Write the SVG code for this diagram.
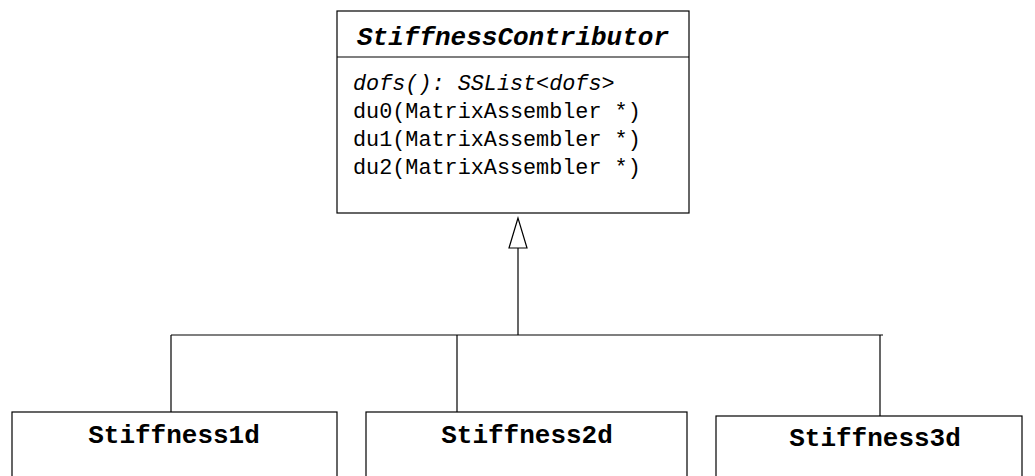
<svg xmlns="http://www.w3.org/2000/svg" width="1035" height="476" viewBox="0 0 1035 476">
<style>
.box{fill:#fff;stroke:#000;stroke-width:1.2}
.ln{fill:none;stroke:#000;stroke-width:1.2}
.title{font-family:"Liberation Mono","Courier New",monospace;font-weight:bold;font-size:26px;fill:#000}
.m{font-family:"Liberation Mono","Courier New",monospace;font-size:21.8px;fill:#000}
</style>
<rect width="1035" height="476" fill="#fff"/>
<g id="connectors">
<line class="ln" x1="518" y1="248" x2="518" y2="335"/>
<polygon class="box" points="518,218 509,248 527,248"/>
<line class="ln" x1="171" y1="335" x2="883" y2="335"/>
<line class="ln" x1="171" y1="335" x2="171" y2="412"/>
<line class="ln" x1="457" y1="335" x2="457" y2="412"/>
<line class="ln" x1="880" y1="335" x2="880" y2="416"/>
</g>
<g id="StiffnessContributor">
<rect class="box" x="337" y="11" width="352" height="202"/>
<line class="ln" x1="337" y1="57" x2="689" y2="57"/>
<text class="title" x="513" y="45" text-anchor="middle" font-style="italic">StiffnessContributor</text>
<text class="m" x="353" y="90" font-style="italic">dofs(): SSList&lt;dofs&gt;</text>
<text class="m" x="353" y="118">du0(MatrixAssembler *)</text>
<text class="m" x="353" y="146">du1(MatrixAssembler *)</text>
<text class="m" x="353" y="174">du2(MatrixAssembler *)</text>
</g>
<g id="Stiffness1d">
<rect class="box" x="12" y="412" width="325" height="80"/>
<text class="title" x="174" y="443" text-anchor="middle">Stiffness1d</text>
</g>
<g id="Stiffness2d">
<rect class="box" x="366" y="412" width="321" height="80"/>
<text class="title" x="527" y="443" text-anchor="middle">Stiffness2d</text>
</g>
<g id="Stiffness3d">
<rect class="box" x="716" y="416" width="306" height="80"/>
<text class="title" x="875" y="446" text-anchor="middle">Stiffness3d</text>
</g>
</svg>
